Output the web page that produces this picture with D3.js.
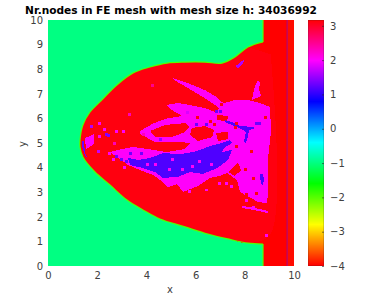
<!DOCTYPE html>
<html lang="en">
  <head>
    <meta charset="utf-8" />
    <title>FE mesh nodes</title>
    <script src="https://cdn.jsdelivr.net/npm/d3@7"></script>
    <style>
      body { margin: 0; background: #fff; }
      text { font-family: "DejaVu Sans", sans-serif; fill: #404040; }
    </style>
  </head>
  <body>
  <script>
    // DATA (all in x / y units of the plot, log10 values for colour)
    var xTicks = [0, 2, 4, 6, 8, 10];
    var yTicks = [0, 1, 2, 3, 4, 5, 6, 7, 8, 9, 10];
    var barTicks = [-4, -3, -2, -1, 0, 1, 2, 3];
    var valueRange = [-4, 3.17];

    var valGreen = -1, valEdge = -2, valStrip = -4, valTail = -3.95, valBody = 3.1, valMid = 2, valHigh = 1.15, valLine = 1.2;

    // mesh outline, lower right -> tip -> upper right
    var edgeLower = [[8.74,0.89],[8.13,0.93],[7.32,1.10],[6.50,1.30],[5.57,1.59],[4.55,1.91],[3.86,2.28],[3.21,2.68],[2.52,3.29],[1.91,3.82],[1.42,4.43]];
    var edgeUpper = [[1.30,4.84],[1.30,5.12],[1.42,5.73],[1.71,6.26],[2.11,6.67],[2.80,7.36],[3.46,7.85],[4.15,8.09],[4.84,8.25],[5.57,8.29],[6.38,8.29],[7.07,8.25],[7.60,8.50],[8.13,8.90],[8.74,9.11]];
    var stripRight = [[8.74,10],[10,10],[10,0],[8.74,0]];
    var tailRight = [[9.72,10],[10,10],[10,0],[9.72,0]];
    var rimTop = [[8.74,9.11],[8.74,10]];
    var rimBottom = [[8.74,0],[8.74,0.89]];
    var innerRight = [[9.05,8.6],[9.05,1.3]];

    var midBand = [[3.74,5.49],[4.23,5.77],[4.76,5.98],[5.45,6.10],[5.04,6.34],[4.80,6.54],[5.28,6.63],[5.77,6.54],[6.38,6.42],[6.79,6.26],[7.20,6.63],[7.60,6.75],[8.13,6.75],[8.62,6.63],[9.02,6.46],[9.07,5.53],[8.94,4.31],[8.94,2.89],[8.90,2.56],[8.54,2.60],[8.09,2.85],[7.80,3.01],[7.68,3.50],[7.28,3.78],[6.99,3.66],[6.59,3.58],[6.10,3.25],[5.49,3.01],[5.24,3.33],[4.88,3.21],[4.67,3.41],[4.27,3.70],[3.74,3.90],[3.25,4.11],[2.85,4.39],[2.52,4.63],[2.85,4.72],[3.46,4.84],[4.02,4.76],[4.84,4.63],[5.57,4.76],[5.77,5.00],[5.37,5.04],[4.35,5.04],[3.74,5.37]];
    var midStreak = [[5.08,7.64],[5.77,7.40],[6.38,7.15],[6.79,6.91],[7.32,6.46],[7.80,6.26],[7.80,6.10],[7.24,6.22],[6.67,6.63],[6.10,6.99],[5.61,7.28],[5.16,7.54]];
    var midSpike = [[8.50,7.52],[8.62,7.48],[8.58,7.15],[8.66,6.91],[8.29,6.75],[8.37,7.15]];
    var midSliver = [[7.89,2.44],[8.41,2.36],[8.94,2.24],[8.94,2.15],[8.37,2.28],[7.89,2.36]];
    var midTip = [[1.50,5.20],[1.85,5.35],[1.85,4.95],[1.55,4.75]];
    var topSpot = [[7.64,8.13],[7.85,8.33],[7.97,8.37],[7.93,8.21],[7.72,8.05]];
    var tipEdge = [[1.38,5.10],[1.46,5.10],[1.50,4.60],[1.62,4.40],[1.50,4.50],[1.40,4.80]];

    var holes = [
      [[4.15,5.49],[4.76,5.73],[5.57,5.81],[5.77,5.65],[5.57,5.45],[5.04,5.24],[4.35,5.24]],
      [[5.85,5.61],[6.38,5.69],[6.75,5.53],[6.67,5.24],[6.10,5.08],[5.77,5.33]],
      [[6.83,5.41],[7.32,5.45],[7.32,5.16],[6.91,5.08]],
      [[6.87,6.14],[7.32,6.10],[7.28,5.89],[6.87,5.93]],
      [[7.32,3.82],[7.72,4.19],[7.85,3.90],[7.60,3.66]]
    ];
    var highLobe = [[3.25,4.39],[3.66,4.31],[4.15,4.39],[4.67,4.59],[5.37,4.55],[5.89,4.63],[6.18,4.72],[6.59,4.88],[7.07,5.00],[7.40,5.12],[7.48,5.00],[7.15,4.80],[7.07,4.63],[7.48,4.72],[7.32,4.31],[6.87,3.98],[6.30,3.74],[5.77,3.82],[5.28,3.62],[4.67,3.58],[4.35,3.82],[3.86,3.98],[3.33,4.11]];
    var highFork = [[7.20,5.93],[7.48,5.85],[7.80,5.69],[8.37,5.65],[8.37,5.57],[8.17,5.53],[8.13,5.24],[8.01,4.96],[7.97,5.08],[8.05,5.45],[7.85,5.57],[7.48,5.73],[7.20,5.85]];
    var highSpot = [[8.62,3.74],[8.74,3.74],[8.78,3.50],[8.74,3.29],[8.66,3.37],[8.62,3.58]];

    // single mesh cells: x, y, value
    var cells = [[1.71,5.73,1.6],[2.03,5.85,2],[2.24,5.61,2],[2.32,5.41,1.4],[2.40,5.37,1.4],[2.03,5.33,2],[2.72,5.53,2],[3.01,5.53,2],[3.25,6.22,2.3],[3.82,5.41,2.3],[2.64,5.04,2.3],[1.99,4.72,1.7],[2.44,4.63,2],[4.19,7.40,2.5],
      [2.72,4.51,1.3],[2.93,4.39,1.3],[3.13,4.31,1.3],[2.60,4.40,2],[3.05,4.05,2],[3.30,4.62,1.3],[3.75,4.62,1.3],[4.30,4.20,2],
      [3.98,4.20,2],[4.88,3.98,2],[6.10,4.31,2],[5.40,4.00,2],[6.60,4.20,2],[5.00,4.40,2],[5.80,4.10,2],
      [7.40,3.30,2],[7.20,3.40,2],[6.90,3.40,2],[6.40,3.15,2],[5.70,3.10,2],[8.00,2.72,2],[8.30,2.45,2],
      [6.71,5.81,3.1],[7.60,5.85,3.1],[8.20,4.70,3.1],[7.95,4.00,3.1],[7.60,4.90,3.1],[8.40,3.00,3.1],[8.30,3.60,3.1],[8.00,2.95,3.1],[7.55,5.70,3.1],[8.80,6.10,3.1],[7.00,6.62,3.1],[6.00,6.10,3.1],[6.55,5.95,3.1],
      [5.98,5.81,1.3],[6.38,5.81,1.3],[6.79,6.34,1.3],[6.95,6.34,1.3],[8.41,5.85,1.3],[8.54,5.85,1.3],[8.82,1.30,2],[5.60,6.30,1.8],[4.50,5.20,1.5]];

    // CONFIG
    var width = 369, height = 297;
    var plotLeft = 48, plotRight = 294, plotTop = 20, plotBottom = 266;
    var barLeft = 308, barRight = 324;
    var cellSize = 0.12;

    var x = d3.scaleLinear().domain([0, 10]).range([plotLeft, plotRight]);
    var y = d3.scaleLinear().domain([0, 10]).range([plotBottom, plotTop]);
    var barY = d3.scaleLinear().domain(valueRange).range([plotBottom, plotTop]);
    var hue = d3.scaleLinear().domain(valueRange).range([0, 360]);
    var colour = (v) => d3.hsl(hue(v), 1, 0.5).formatHex();

    var svg = d3.select("body").append("svg")
        .attr("width", width)
        .attr("height", height)
        .style("display", "block");

    var line = d3.line().x((p) => x(p[0])).y((p) => y(p[1]));
    var curve = d3.line().x((p) => x(p[0])).y((p) => y(p[1])).curve(d3.curveCatmullRom);
    var plot = svg.append("g").attr("shape-rendering", "crispEdges");

    function fillShape(points, v, gen = line) {
      plot.append("path")
        .attr("d", gen(points) + "Z")
        .attr("fill", colour(v));
    }

    // background and strip right of the mesh
    plot.append("rect")
      .attr("x", x(0)).attr("y", y(10))
      .attr("width", x(10) - x(0)).attr("height", y(0) - y(10))
      .attr("fill", colour(valGreen));
    var outline = [...edgeLower, ...edgeUpper];
    fillShape(stripRight, valStrip);
    fillShape(outline, valStrip, curve);
    fillShape(tailRight, valTail);

    var innerUpper = edgeUpper.filter((p) => p[0] < 8.7);
    var innerLower = edgeLower.filter((p) => p[0] < 8.7);
    fillShape([...innerRight, ...innerLower, ...innerUpper], valBody, curve);

    fillShape(midBand, valMid);
    fillShape(midStreak, valMid);
    fillShape(midSpike, valMid);
    fillShape(midSliver, valMid);
    fillShape(midTip, valMid);
    holes.forEach((h) => fillShape(h, valBody));
    fillShape(highLobe, valHigh);
    fillShape(highFork, valHigh);
    fillShape(highSpot, valHigh);
    fillShape(topSpot, 1.6);
    fillShape(tipEdge, 1.3);

    plot.selectAll(".cell")
      .data(cells)
      .enter()
      .append("rect")
        .attr("class", "cell")
        .attr("x", (c) => x(c[0]))
        .attr("y", (c) => y(c[1]))
        .attr("width", x(cellSize) - x(0))
        .attr("height", y(0) - y(cellSize))
        .attr("fill", (c) => colour(c[2]));

    // lime rim between mesh and background
    [[outline, curve], [rimTop, line], [rimBottom, line]].forEach(function (r) {
      svg.append("path")
        .attr("d", r[1](r[0]))
        .attr("fill", "none")
        .attr("stroke", colour(valEdge))
        .attr("stroke-width", 1.2);
    });

    svg.append("line")
      .attr("x1", x(9.72)).attr("x2", x(9.72))
      .attr("y1", y(0)).attr("y2", y(10))
      .attr("stroke", colour(valLine))
      .attr("stroke-opacity", 0.55)
      .attr("stroke-width", 1);

    // axes
    var xAxis = svg.append("g")
      .attr("transform", `translate(0,${plotBottom})`)
      .call(d3.axisBottom(x).tickValues(xTicks).tickSize(0).tickPadding(6));
    var yAxis = svg.append("g")
      .attr("transform", `translate(${plotLeft},0)`)
      .call(d3.axisLeft(y).tickValues(yTicks).tickSize(0).tickPadding(5));
    xAxis.select(".domain").remove();
    yAxis.select(".domain").remove();

    // colour bar
    var bands = d3.range(0, 246).map((i) => barY.invert(plotBottom - i));
    svg.append("g").attr("shape-rendering", "crispEdges")
      .selectAll("rect")
      .data(bands)
      .enter()
      .append("rect")
        .attr("x", barLeft)
        .attr("y", (v) => barY(v) - 1)
        .attr("width", barRight - barLeft)
        .attr("height", 1)
        .attr("fill", colour);
    svg.append("rect")
      .attr("x", barLeft + 0.5).attr("y", plotTop + 0.5)
      .attr("width", barRight - barLeft - 1).attr("height", plotBottom - plotTop - 1)
      .attr("fill", "none")
      .attr("stroke", "#262626")
      .attr("stroke-opacity", 0.35)
      .attr("stroke-width", 0.5);
    var barAxis = svg.append("g")
      .attr("transform", `translate(${barRight},0)`)
      .call(d3.axisRight(barY).tickValues(barTicks).tickSize(-2).tickPadding(6).tickFormat(d3.format("d")));
    barAxis.select(".domain").remove();
    barAxis.selectAll("line").attr("stroke", "#262626").attr("stroke-opacity", 0.6);

    svg.selectAll("g text").style("font-family", '"DejaVu Sans", sans-serif').style("font-size", "10px").attr("fill", "#404040");

    // labels
    svg.append("text")
      .attr("x", 171).attr("y", 14)
      .attr("text-anchor", "middle")
      .style("font-size", "10.6px")
      .style("font-weight", "bold")
      .style("fill", "#000")
      .text("Nr.nodes in FE mesh with mesh size h: 34036992");
    svg.append("text")
      .attr("x", 170).attr("y", 293)
      .attr("text-anchor", "middle")
      .style("font-size", "10px")
      .text("x");
    svg.append("text")
      .attr("transform", "translate(26,144) rotate(-90)")
      .attr("text-anchor", "middle")
      .style("font-size", "10px")
      .text("y");
  </script>
  </body>
</html>
